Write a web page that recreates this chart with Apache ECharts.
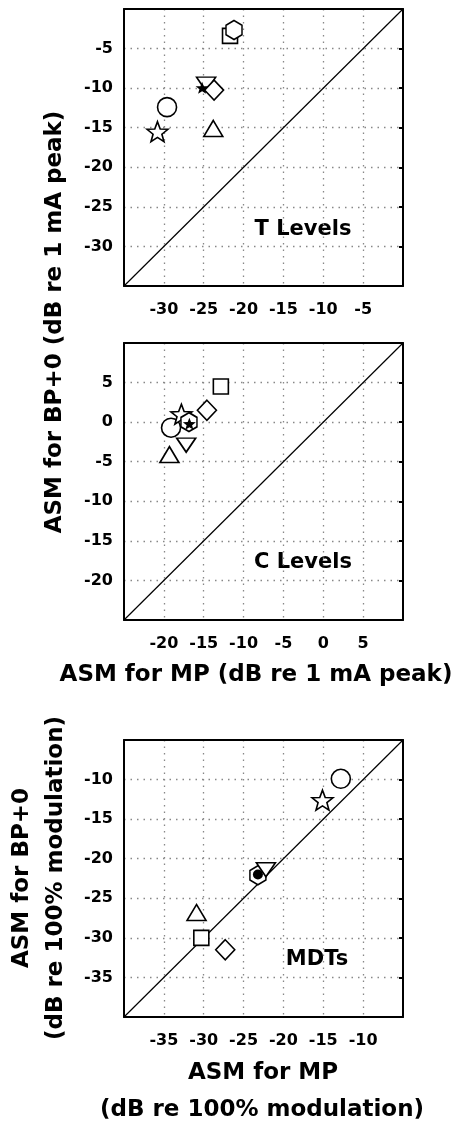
<!DOCTYPE html>
<html>
<head>
<meta charset="utf-8">
<script src="https://cdn.jsdelivr.net/npm/echarts@6/dist/echarts.min.js"></script>
<style>
  html, body { margin: 0; padding: 0; background: #fff; }
  #myChart { width: 463px; height: 1124px; }
</style>
</head>
<body>
<div id="myChart"></div>
<script>
// marker order (draw order): triangle, circle, star, square, hexagon, invTriangle, diamond, dot
var shapes = ['triangle', 'circle', 'star', 'square', 'hexagon', 'invTriangle', 'diamond', 'dot'];

// T levels (dB re 1 mA peak)
var tX = [-23.8, -29.6, -30.8, -21.7, -21.2, -24.7, -23.7, -25.2];
var tY = [-15.1, -12.4, -15.5, -3.4, -2.65, -9.5, -10.25, -9.95];

// C levels (dB re 1 mA peak)
var cX = [-19.3, -19.1, -17.8, -12.85, -16.85, -17.2, -14.6, -16.8];
var cY = [-4.1, -0.7, 1.0, 4.5, 0.0, -2.9, 1.5, -0.2];

// MDTs (dB re 100% modulation)
var mX = [-30.9, -12.8, -15.1, -30.3, -23.2, -22.2, -27.3, -23.2];
var mY = [-26.8, -9.9, -12.6, -30.0, -22.1, -21.4, -31.5, -22.0];

var tRange = [-35, 0];
var cRange = [-25, 10];
var mRange = [-40, -5];

var font = 'DejaVu Sans';

var symbolDefs = {
  triangle: { symbol: 'triangle', size: [19, 16], fill: '#fff' },
  circle: { symbol: 'circle', size: 19, fill: '#fff' },
  star: { symbol: 'path://M0,-1L0.247,-0.34L0.951,-0.309L0.4,0.13L0.588,0.809L0,0.42L-0.588,0.809L-0.4,0.13L-0.951,-0.309L-0.247,-0.34Z', size: [21, 20], fill: '#fff' },
  square: { symbol: 'rect', size: 15, fill: '#fff' },
  hexagon: { symbol: 'path://M0,-1L0.866,-0.5L0.866,0.5L0,1L-0.866,0.5L-0.866,-0.5Z', size: [16, 19], fill: '#fff' },
  invTriangle: { symbol: 'path://M-1,-1L1,-1L0,1Z', size: [19, 14], fill: '#fff' },
  diamond: { symbol: 'diamond', size: [19, 20], fill: '#fff' }
};
var filledStar = { symbol: symbolDefs.star.symbol, size: [13, 12], fill: '#000' };
var filledDot = { symbol: 'circle', size: 10, fill: '#000' };

var panels = [
  { xs: tX, ys: tY, range: tRange, top: 9, dot: filledStar },
  { xs: cX, ys: cY, range: cRange, top: 343, dot: filledStar },
  { xs: mX, ys: mY, range: mRange, top: 740, dot: filledDot }
];

var grids = [], xAxes = [], yAxes = [], series = [];
var frame = { show: true, onZero: false, lineStyle: { color: '#000', width: 2 } };

panels.forEach(function (p, i) {
  grids.push({ left: 124, top: p.top, width: 279, height: 277 });
  var tickLabel = { fontFamily: font, fontWeight: 'bold', fontSize: 16, color: '#000',
    showMinLabel: false, showMaxLabel: false };
  var split = { show: true, showMinLine: false, showMaxLine: false,
    lineStyle: { color: '#888', width: 1.3, type: [1.5, 5] } };
  var base = { gridIndex: i, type: 'value', min: p.range[0], max: p.range[1], interval: 5 };
  xAxes.push(Object.assign({}, base, { position: 'bottom',
    axisLine: frame, axisTick: { show: false },
    axisLabel: Object.assign({ margin: 16 }, tickLabel), splitLine: split }));
  xAxes.push(Object.assign({}, base, { position: 'top',
    axisLine: frame, axisTick: { show: false }, axisLabel: { show: false }, splitLine: { show: false } }));
  yAxes.push(Object.assign({}, base, { position: 'left',
    axisLine: frame, axisTick: { show: false },
    axisLabel: Object.assign({ margin: 11 }, tickLabel), splitLine: split }));
  // right side: frame with short inward ticks
  yAxes.push(Object.assign({}, base, { position: 'right',
    axisLine: frame, axisLabel: { show: false }, splitLine: { show: false },
    axisTick: { show: true, inside: true, length: 4, lineStyle: { color: '#000', width: 2 } } }));

  // identity line
  series.push({ type: 'line', xAxisIndex: i * 2, yAxisIndex: i * 2, silent: true, symbol: 'none',
    data: [[p.range[0], p.range[0]], [p.range[1], p.range[1]]],
    lineStyle: { color: '#000', width: 1.2 }, z: 1 });

  shapes.forEach(function (s, k) {
    var d = s === 'dot' ? p.dot : symbolDefs[s];
    series.push({ type: 'scatter', xAxisIndex: i * 2, yAxisIndex: i * 2, silent: true,
      symbol: d.symbol, symbolSize: d.size,
      data: [[p.xs[k], p.ys[k]]],
      itemStyle: { color: d.fill, borderColor: '#000', borderWidth: d.fill === '#000' ? 0 : 1.6, opacity: 1 },
      z: 2 + k });
  });
});

var titleStyle = { fontFamily: font, fontWeight: 'bold', fontSize: 23, fill: '#000' };
function txt(text, x, y, rot, size) {
  return { type: 'text', x: x, y: y, rotation: rot || 0,
    style: Object.assign({}, titleStyle, { text: text, fontSize: size || 23, align: 'center', verticalAlign: 'middle' }) };
}

var graphics = [
  txt('T Levels', 303, 230, 0, 21),
  txt('C Levels', 303, 563, 0, 21),
  txt('MDTs', 317, 960, 0, 21),
  txt('ASM for BP+0 (dB re 1 mA peak)', 55, 322, Math.PI / 2),
  txt('ASM for MP (dB re 1 mA peak)', 256, 675),
  txt('ASM for BP+0', 22, 878, Math.PI / 2),
  txt('(dB re 100% modulation)', 56, 878, Math.PI / 2),
  txt('ASM for MP', 263, 1073),
  txt('(dB re 100% modulation)', 262, 1110)
];

var myChart = echarts.init(document.getElementById('myChart'));
myChart.setOption({
  animation: false,
  backgroundColor: '#fff',
  grid: grids,
  xAxis: xAxes,
  yAxis: yAxes,
  series: series,
  graphic: graphics
});
</script>
</body>
</html>
